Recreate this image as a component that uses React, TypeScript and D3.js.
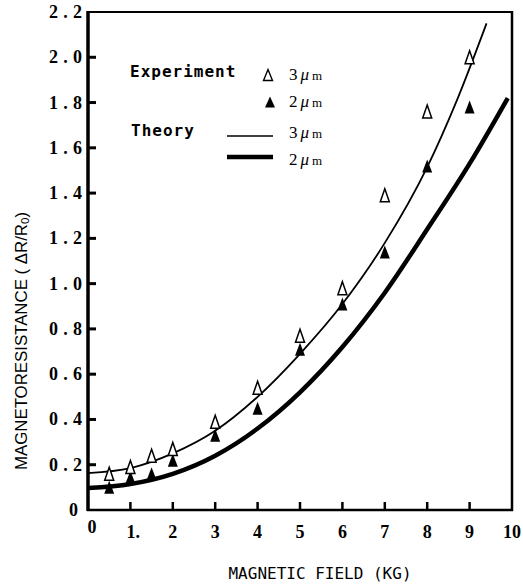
import React from 'react';
import * as d3 from 'd3';

// tick values / labels
const xTicks = [0, 1, 2, 3, 4, 5, 6, 7, 8, 9, 10];
const xTickLabels = ['0', '1.', '2', '3', '4', '5', '6', '7', '8', '9', '10'];
const yTicks = [0, 0.2, 0.4, 0.6, 0.8, 1.0, 1.2, 1.4, 1.6, 1.8, 2.0, 2.2];
const yTickLabels = ['0', '0.2', '0.4', '0.6', '0.8', '1.0', '1.2', '1.4', '1.6', '1.8', '2.0', '2.2'];

// experiment, 3 um (open triangles)
const exp3Field = [0.5, 1, 1.5, 2, 3, 4, 5, 6, 7, 8, 9];
const exp3Value = [0.16, 0.19, 0.24, 0.27, 0.39, 0.54, 0.77, 0.98, 1.39, 1.76, 2.0];

// experiment, 2 um (filled triangles)
const exp2Field = [0.5, 1, 1.5, 2, 3, 4, 5, 6, 7, 8, 9];
const exp2Value = [0.1, 0.145, 0.16, 0.22, 0.33, 0.45, 0.71, 0.91, 1.14, 1.52, 1.78];

// theory curves
const th3Field = [0, 1, 2, 3, 4, 5, 6, 7, 8, 8.7, 9.4];
const th3Value = [0.163, 0.185, 0.25, 0.35, 0.5, 0.69, 0.91, 1.18, 1.515, 1.81, 2.15];
const th2Field = [0, 1, 2, 3, 4, 5, 6, 7, 8, 9, 9.9];
const th2Value = [0.097, 0.115, 0.16, 0.24, 0.36, 0.52, 0.72, 0.96, 1.24, 1.53, 1.82];

const W = 523;
const H = 584;

const tri = (cx, cy, w, h) =>
  `M${cx},${cy - h / 2} L${cx + w / 2},${cy + h / 2} L${cx - w / 2},${cy + h / 2} Z`;

export default function App() {
  const x = d3.scaleLinear().domain([0, 10]).range([88, 512]);
  const y = d3.scaleLinear().domain([0, 2.2]).range([510, 12]);

  const line = d3
    .line<[number, number]>()
    .x(d => x(d[0]))
    .y(d => y(d[1]))
    .curve(d3.curveMonotoneX);

  const th3 = th3Field.map((f, i) => [f, th3Value[i]] as [number, number]);
  const th2 = th2Field.map((f, i) => [f, th2Value[i]] as [number, number]);

  const mono = '"DejaVu Sans Mono", monospace';
  const serif = '"Liberation Serif", serif';

  return (
    <svg
      width={W}
      height={H}
      style={{ position: 'absolute', left: 0, top: 0, background: '#fff' }}
    >
      {/* theory curves */}
      <path d={line(th3) || ''} fill="none" stroke="#000" strokeWidth={1.8} />
      <path d={line(th2) || ''} fill="none" stroke="#000" strokeWidth={4.5} />

      {/* data */}
      {exp2Field.map((f, i) => (
        <path key={'f' + i} d={tri(x(f), y(exp2Value[i]), 10, 13)} fill="#000" />
      ))}
      {exp3Field.map((f, i) => (
        <path
          key={'o' + i}
          d={tri(x(f), y(exp3Value[i]), 9, 13)}
          fill="#fff"
          stroke="#000"
          strokeWidth={1.5}
        />
      ))}

      {/* frame */}
      <line x1={88} x2={512} y1={12} y2={12} stroke="#000" strokeWidth={2} />
      <line x1={512} x2={512} y1={11} y2={511} stroke="#000" strokeWidth={2.5} />
      <line x1={87} x2={513} y1={510} y2={510} stroke="#000" strokeWidth={2.5} />
      <line x1={88} x2={88} y1={11} y2={511} stroke="#000" strokeWidth={3.5} />

      {/* y ticks */}
      {yTicks.map((t, i) => (
        <g key={'yt' + i}>
          {t > 0 && t < 2.2 && (
            <line x1={88} x2={96} y1={y(t)} y2={y(t)} stroke="#000" strokeWidth={3} />
          )}
          <text
            x={yTickLabels[i].length > 1 ? 82 : 78}
            y={y(t) + 6}
            textAnchor="end"
            fontFamily={serif}
            fontWeight="bold"
            fontSize={18}
            textLength={yTickLabels[i].length > 1 ? 33 : undefined}
            lengthAdjust="spacing"
          >
            {yTickLabels[i]}
          </text>
        </g>
      ))}

      {/* x ticks */}
      {xTicks.map((t, i) => (
        <g key={'xt' + i}>
          {t > 0 && t < 10 && (
            <line x1={x(t)} x2={x(t)} y1={510} y2={502} stroke="#000" strokeWidth={2.5} />
          )}
          <text
            x={t === 0 ? x(t) + 4 : t === 1 ? x(t) - 4 : x(t)}
            y={t === 0 ? 533 : 538}
            textAnchor={t === 1 ? 'start' : 'middle'}
            fontFamily={serif}
            fontWeight="bold"
            fontSize={18}
          >
            {xTickLabels[i]}
          </text>
        </g>
      ))}

      {/* axis titles */}
      <text x={320} y={579} textAnchor="middle" fontFamily={mono} fontSize={16}>
        MAGNETIC FIELD (KG)
      </text>
      <text
        transform="translate(27,470) rotate(-90)"
        fontFamily='"Liberation Sans", Arial, sans-serif'
        fontSize={16}
        textLength={258}
        lengthAdjust="spacingAndGlyphs"
      >
        MAGNETORESISTANCE ( ΔR/R<tspan fontSize={11} dy={2}>0</tspan>
        <tspan dy={-2}>)</tspan>
      </text>

      {/* legend */}
      <text x={130} y={77} fontFamily={mono} fontWeight="bold" fontSize={16} letterSpacing={1}>
        Experiment
      </text>
      <path d={tri(268, 75, 9, 11)} fill="#fff" stroke="#000" strokeWidth={1.4} />
      <path d={tri(270, 102, 10, 11)} fill="#000" />
      <text x={131} y={136} fontFamily={mono} fontWeight="bold" fontSize={16} letterSpacing={1}>
        Theory
      </text>
      <line x1={227} x2={273} y1={136} y2={136} stroke="#000" strokeWidth={1.5} />
      <line x1={227} x2={273} y1={157} y2={157} stroke="#000" strokeWidth={4.5} />
      {[
        ['3', 80],
        ['2', 107],
        ['3', 138],
        ['2', 165],
      ].map(([n, yy], i) => (
        <text key={'lg' + i} x={289} y={yy as number} fontFamily={serif} fontSize={17}>
          {n}
          <tspan dx={3} fontStyle="italic">μ</tspan>
          <tspan dx={3} fontSize={13}>m</tspan>
        </text>
      ))}
    </svg>
  );
}
